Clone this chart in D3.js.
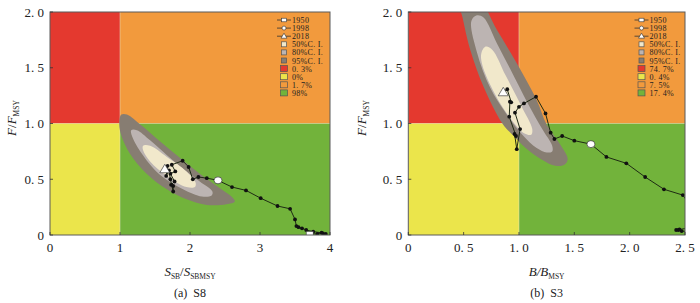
<!DOCTYPE html>
<html><head><meta charset="utf-8">
<script src="https://cdn.jsdelivr.net/npm/d3@7"></script>
<style>
body{margin:0;background:#fff}
svg{display:block}
text{font-family:"Liberation Serif","DejaVu Serif",serif;fill:#222}
</style>
</head><body><svg id="c" width="700" height="303"></svg>
<script>
// ---------- data ----------
const yTicks = [0, 0.5, 1, 1.5, 2];
const yTickLabels = ["0", "0. 5", "1. 0", "1. 5", "2. 0"];
const xTicksS8 = [0, 1, 2, 3, 4];
const xTickLabelsS8 = ["0", "1", "2", "3", "4"];
const xTicksS3 = [0, 0.5, 1, 1.5, 2, 2.5];
const xTickLabelsS3 = ["0", "0. 5", "1. 0", "1. 5", "2. 0", "2. 5"];

const legendLabels = ["1950", "1998", "2018", "50%C. I.", "80%C. I.", "95%C. I."];
const zonePctS8 = ["0. 3%", "0%", "1. 7%", "98%"];
const zonePctS3 = ["74. 7%", "0. 4%", "7. 5%", "17. 4%"];

// trajectory S8 (1950 -> 2018)
const trajS8X = [3.71, 3.82, 3.90, 3.94, 3.88, 3.76, 3.66, 3.60, 3.55, 3.52, 3.50, 3.43, 3.25, 3.01, 2.80, 2.60, 2.40, 2.24, 2.12, 2.04, 1.98, 1.895, 1.74, 1.79, 1.72, 1.78, 1.73, 1.76, 1.76, 1.72, 1.70, 1.66, 1.68, 1.64];
const trajS8Y = [0.01, 0.01, 0.015, 0.01, 0.02, 0.03, 0.045, 0.06, 0.07, 0.08, 0.14, 0.235, 0.26, 0.33, 0.40, 0.43, 0.49, 0.51, 0.52, 0.50, 0.61, 0.666, 0.63, 0.57, 0.55, 0.48, 0.45, 0.44, 0.39, 0.50, 0.58, 0.53, 0.62, 0.59];
const idx1998S8 = 16;

// trajectory S3 (1950 -> 2018)
const trajS3X = [2.62, 2.55, 2.47, 2.44, 2.42, 2.45, 2.52, 2.60, 2.58, 2.48, 2.31, 2.14, 1.97, 1.79, 1.65, 1.50, 1.39, 1.32, 1.286, 1.24, 1.154, 1.045, 1.00, 0.964, 1.01, 0.98, 0.96, 0.973, 0.912, 0.918, 0.93, 0.894, 0.858];
const trajS3Y = [0.03, 0.03, 0.035, 0.045, 0.045, 0.05, 0.06, 0.10, 0.22, 0.358, 0.41, 0.52, 0.643, 0.70, 0.815, 0.846, 0.888, 0.861, 0.918, 1.09, 1.24, 1.18, 1.15, 1.097, 0.95, 0.77, 0.906, 0.888, 1.061, 1.196, 1.19, 1.307, 1.28];
const idx1998S3 = 14;

// confidence regions (outline points)
const ci95S8 = [[1.02,1.08],[1.10,1.08],[1.29,0.99],[1.57,0.84],[1.86,0.69],[2.14,0.55],[2.43,0.42],[2.60,0.34],[2.64,0.30],[2.52,0.275],[2.24,0.27],[1.95,0.32],[1.67,0.41],[1.38,0.55],[1.14,0.73],[1.01,0.91],[0.99,1.02]];
const ci80S8 = [[1.16,0.94],[1.24,0.94],[1.43,0.85],[1.81,0.64],[2.14,0.48],[2.32,0.39],[2.31,0.355],[2.17,0.345],[1.90,0.41],[1.57,0.54],[1.29,0.75],[1.17,0.89]];
const ci50S8 = [[1.33,0.80],[1.43,0.80],[1.67,0.70],[1.95,0.57],[2.08,0.47],[2.07,0.43],[1.95,0.43],[1.67,0.53],[1.43,0.66],[1.33,0.76]];

const ci95S3 = [[0.46,2.1],[0.64,2.1],[0.80,1.84],[0.98,1.54],[1.16,1.21],[1.25,0.99],[1.38,0.80],[1.44,0.68],[1.41,0.63],[1.33,0.62],[1.20,0.68],[1.06,0.78],[0.95,0.89],[0.85,1.0],[0.68,1.33],[0.56,1.66],[0.49,1.95]];
const ci80S3 = [[0.57,1.92],[0.62,1.97],[0.68,1.95],[0.80,1.72],[0.92,1.49],[1.08,1.18],[1.21,0.95],[1.30,0.80],[1.30,0.75],[1.25,0.74],[1.16,0.78],[1.03,0.90],[0.89,1.08],[0.74,1.32],[0.62,1.64]];
const ci50S3 = [[0.66,1.63],[0.70,1.69],[0.76,1.66],[0.88,1.43],[1.02,1.16],[1.12,0.95],[1.11,0.90],[1.05,0.91],[0.92,1.05],[0.78,1.27],[0.67,1.52]];

// ---------- styles ----------
const zoneColors = ["#e4392f", "#ebe54b", "#f29a3d", "#72b33b"];
const ciColors = ["#f1e8cb", "#bcb4b2", "#877d72"];

const svg = d3.select("#c");

function panel(opt) {
  const x = d3.scaleLinear().domain(opt.xDomain).range(opt.xRange);
  const y = d3.scaleLinear().domain([0, 2]).range([235, 12]);
  const g = svg.append("g");
  const clipId = "clip" + opt.id;
  g.append("clipPath").attr("id", clipId).append("rect")
    .attr("x", opt.xRange[0]).attr("y", 12)
    .attr("width", opt.xRange[1] - opt.xRange[0]).attr("height", 223);
  const pg = g.append("g").attr("clip-path", `url(#${clipId})`);
  const xmax = opt.xDomain[1];
  const zones = [
    {x0: 0, x1: 1, y0: 1, y1: 2},
    {x0: 0, x1: 1, y0: 0, y1: 1},
    {x0: 1, x1: xmax, y0: 1, y1: 2},
    {x0: 1, x1: xmax, y0: 0, y1: 1}
  ];
  pg.selectAll("rect.zone").data(zones).join("rect").attr("class", "zone")
    .attr("x", d => x(d.x0)).attr("y", d => y(d.y1))
    .attr("width", d => x(d.x1) - x(d.x0)).attr("height", d => y(d.y0) - y(d.y1))
    .attr("fill", (d, i) => zoneColors[i]);
  pg.append("line").attr("x1", x(1)).attr("x2", x(1)).attr("y1", y(0)).attr("y2", y(2))
    .attr("stroke", "#e9e3c8").attr("stroke-width", 0.8).attr("opacity", 0.6);
  pg.append("line").attr("x1", x(0)).attr("x2", x(xmax)).attr("y1", y(1)).attr("y2", y(1))
    .attr("stroke", "#e9e3c8").attr("stroke-width", 0.6).attr("opacity", 0.5);

  const area = d3.line().x(d => x(d[0])).y(d => y(d[1])).curve(d3.curveCatmullRomClosed.alpha(0.5));
  [opt.ci95, opt.ci80, opt.ci50].forEach((poly, i) => {
    pg.append("path").attr("d", area(poly)).attr("fill", ciColors[2 - i]);
  });

  const pts = opt.tx.map((v, i) => [v, opt.ty[i]]);
  const line = d3.line().x(d => x(d[0])).y(d => y(d[1]));
  pg.append("path").attr("d", line(pts)).attr("fill", "none")
    .attr("stroke", "#1e2a14").attr("stroke-width", 1);
  pg.selectAll("circle.pt").data(pts).join("circle").attr("class", "pt")
    .attr("cx", d => x(d[0])).attr("cy", d => y(d[1])).attr("r", 1.9).attr("fill", "#111");
  const p0 = pts[0], p1 = pts[opt.i1998], p2 = pts[pts.length - 1];
  pg.append("rect").attr("x", x(p0[0]) - 3.5).attr("y", y(p0[1]) - 2.5).attr("width", 7).attr("height", 5)
    .attr("fill", "#fff").attr("stroke", "#333").attr("stroke-width", 0.6);
  pg.append("ellipse").attr("cx", x(p1[0])).attr("cy", y(p1[1])).attr("rx", 4).attr("ry", 3.5)
    .attr("fill", "#fff").attr("stroke", "#333").attr("stroke-width", 0.7);
  pg.append("path").attr("transform", `translate(${x(p2[0])},${y(p2[1])})`)
    .attr("d", "M0,-5L5,3.5L-5,3.5Z").attr("fill", "#fff").attr("stroke", "#444").attr("stroke-width", 0.7);

  g.append("rect").attr("x", opt.xRange[0]).attr("y", 12)
    .attr("width", opt.xRange[1] - opt.xRange[0]).attr("height", 223)
    .attr("fill", "none").attr("stroke", "#5a5a5a").attr("stroke-width", 1);

  g.selectAll("line.xt").data(opt.xTicks).join("line").attr("class", "xt")
    .attr("x1", d => x(d)).attr("x2", d => x(d)).attr("y1", 235).attr("y2", 232)
    .attr("stroke", "#333").attr("stroke-width", 0.8);
  g.selectAll("line.yt").data(yTicks).join("line").attr("class", "yt")
    .attr("x1", opt.xRange[0]).attr("x2", opt.xRange[0] + 3).attr("y1", d => y(d)).attr("y2", d => y(d))
    .attr("stroke", "#333").attr("stroke-width", 0.8);
  g.selectAll("text.xl").data(opt.xTicks).join("text").attr("class", "xl")
    .attr("x", d => x(d)).attr("y", 252).attr("text-anchor", "middle")
    .attr("font-size", 13).text((d, i) => opt.xTickLabels[i]);
  g.selectAll("text.yl").data(yTicks).join("text").attr("class", "yl")
    .attr("x", opt.xRange[0] - 6).attr("y", d => y(d) + 4.5).attr("text-anchor", "end")
    .attr("font-size", 13).text((d, i) => yTickLabels[i]);

  const cx = (opt.xRange[0] + opt.xRange[1]) / 2;
  const xt = g.append("text").attr("x", cx).attr("y", 276).attr("text-anchor", "middle").attr("font-size", 13);
  opt.xTitle.forEach(p => {
    const t = xt.append("tspan").text(p.t);
    if (p.it) t.attr("font-style", "italic");
    if (p.sub) t.attr("font-size", 7.5).attr("dy", 3);
    if (p.up) t.attr("dy", -3);
  });
  const yt = g.append("text").attr("transform", `translate(${opt.yTitleX},118) rotate(-90)`)
    .attr("text-anchor", "middle").attr("font-size", 13);
  yt.append("tspan").attr("font-style", "italic").text("F");
  yt.append("tspan").text("/");
  yt.append("tspan").attr("font-style", "italic").text("F");
  yt.append("tspan").attr("font-size", 7.5).attr("dy", 3).text("MSY");

  g.append("text").attr("x", cx).attr("y", 297).attr("text-anchor", "middle")
    .attr("font-size", 12).attr("xml:space", "preserve").text(opt.caption);

  // legend
  const lx = opt.legendX, ly = 20, step = 8.1;
  const lg = g.append("g");
  for (let i = 0; i < 3; i++) {
    const yy = ly + i * step;
    lg.append("line").attr("x1", lx - 7).attr("x2", lx + 7).attr("y1", yy).attr("y2", yy)
      .attr("stroke", "#333").attr("stroke-width", 0.8);
    if (i === 0) lg.append("rect").attr("x", lx - 2.5).attr("y", yy - 1.8).attr("width", 5).attr("height", 3.6)
      .attr("fill", "#fff").attr("stroke", "#333").attr("stroke-width", 0.6);
    if (i === 1) lg.append("circle").attr("cx", lx).attr("cy", yy).attr("r", 2)
      .attr("fill", "#fff").attr("stroke", "#333").attr("stroke-width", 0.6);
    if (i === 2) lg.append("path").attr("transform", `translate(${lx},${yy})`).attr("d", "M0,-3L3,2L-3,2Z")
      .attr("fill", "#fff").attr("stroke", "#333").attr("stroke-width", 0.6);
  }
  for (let i = 0; i < 3; i++) {
    const yy = ly + (3 + i) * step;
    lg.append("rect").attr("x", lx - 2.5).attr("y", yy - 2.5).attr("width", 5).attr("height", 5)
      .attr("fill", ciColors[i]).attr("stroke", "#555").attr("stroke-width", 0.7);
  }
  for (let i = 0; i < 4; i++) {
    const yy = ly + (6 + i) * step;
    lg.append("rect").attr("x", lx - 3.5).attr("y", yy - 3).attr("width", 7).attr("height", 6)
      .attr("fill", zoneColors[i]).attr("stroke", "#555").attr("stroke-width", 0.7);
  }
  const labels = legendLabels.concat(opt.zonePct);
  lg.selectAll("text").data(labels).join("text")
    .attr("x", lx + 8).attr("y", (d, i) => ly + i * step + 3)
    .attr("font-size", 8).attr("letter-spacing", 0.3).attr("xml:space", "preserve").text(d => d);
}

panel({
  id: "a", xDomain: [0, 4], xRange: [50, 330], xTicks: xTicksS8, xTickLabels: xTickLabelsS8,
  ci95: ci95S8, ci80: ci80S8, ci50: ci50S8, tx: trajS8X, ty: trajS8Y, i1998: idx1998S8,
  legendX: 284, zonePct: zonePctS8, yTitleX: 16, caption: "(a)  S8",
  xTitle: [{t: "S", it: true}, {t: "SB", sub: true}, {t: "/", up: true}, {t: "S", it: true}, {t: "SBMSY", sub: true}]
});
panel({
  id: "b", xDomain: [0, 2.5], xRange: [408.3, 685], xTicks: xTicksS3, xTickLabels: xTickLabelsS3,
  ci95: ci95S3, ci80: ci80S3, ci50: ci50S3, tx: trajS3X, ty: trajS3Y, i1998: idx1998S3,
  legendX: 641.5, zonePct: zonePctS3, yTitleX: 366, caption: "(b)  S3",
  xTitle: [{t: "B", it: true}, {t: "/B", it: true}, {t: "MSY", sub: true}]
});
</script></body></html>
